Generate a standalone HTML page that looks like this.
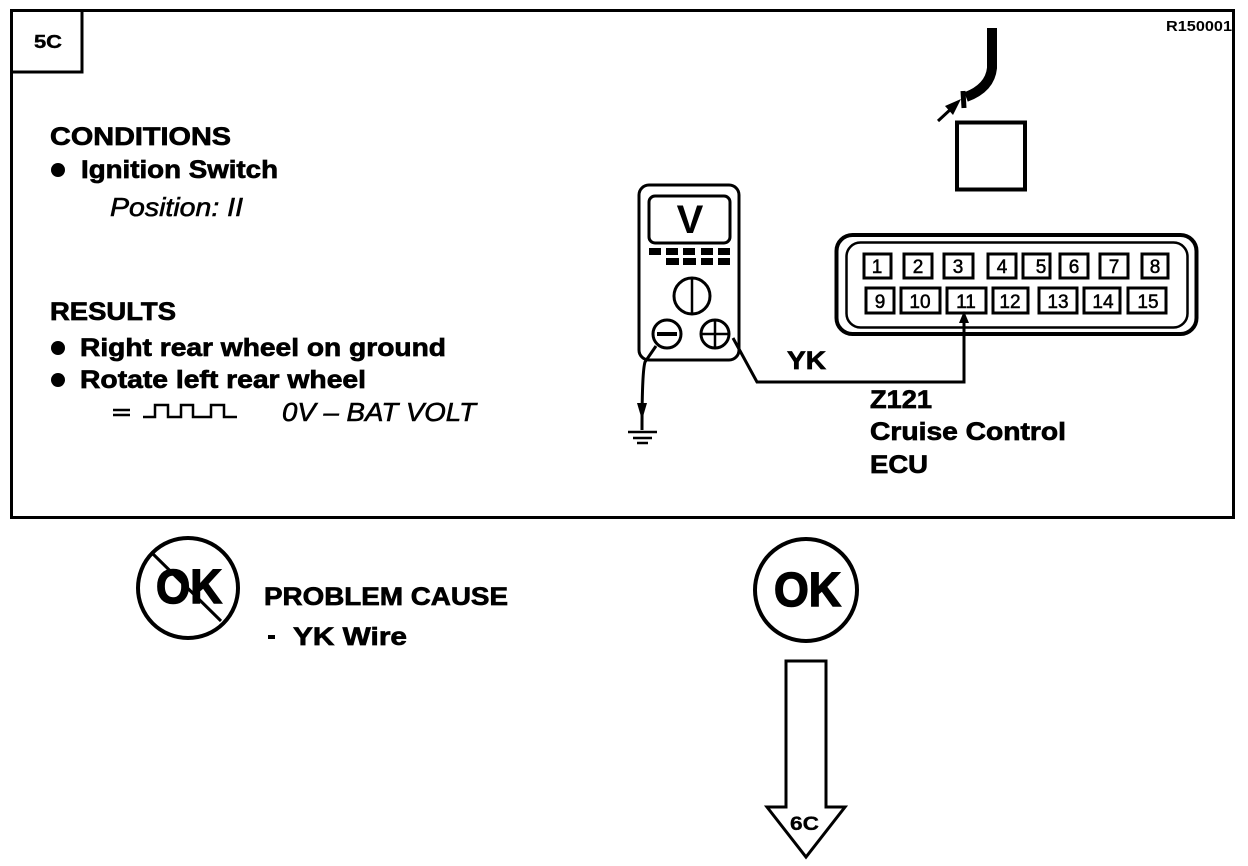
<!DOCTYPE html>
<html><head><meta charset="utf-8"><style>
html,body{margin:0;padding:0;background:#fff}
svg{display:block}
text{font-family:"Liberation Sans",sans-serif;font-weight:bold;fill:#000}
.l{font-size:25px;stroke:#000;stroke-width:.7px}
.i{font-size:26px;font-style:italic;font-weight:normal;stroke:#000;stroke-width:.6px}
.p{font-size:19px;text-anchor:middle;stroke:#000;stroke-width:.5px;font-weight:normal}
.b{fill:#000;stroke:none}
</style></head><body>
<svg width="1248" height="866" viewBox="0 0 1248 866" xmlns="http://www.w3.org/2000/svg">
<g fill="none" stroke="#000" stroke-width="3">
<rect x="11.500" y="10.500" width="1222" height="507"/>
<path d="M13 72H82V11"/>
</g>
<text x="34" y="48" style="font-size:18px;stroke:#000;stroke-width:.4px" textLength="28" lengthAdjust="spacingAndGlyphs">5C</text>
<text x="1166" y="31" style="font-size:15px" textLength="66" lengthAdjust="spacingAndGlyphs">R150001</text>

<text class="l" x="50" y="145" textLength="181" lengthAdjust="spacingAndGlyphs">CONDITIONS</text>
<circle class="b" cx="58" cy="170" r="7"/>
<text class="l" x="81" y="178" textLength="197" lengthAdjust="spacingAndGlyphs">Ignition Switch</text>
<text class="i" x="110" y="216" textLength="133" lengthAdjust="spacingAndGlyphs">Position: II</text>
<text class="l" x="50" y="320" textLength="126" lengthAdjust="spacingAndGlyphs">RESULTS</text>
<circle class="b" cx="58" cy="348" r="7"/>
<text class="l" x="80" y="356" textLength="366" lengthAdjust="spacingAndGlyphs">Right rear wheel on ground</text>
<circle class="b" cx="58" cy="380" r="7"/>
<text class="l" x="80" y="388" textLength="286" lengthAdjust="spacingAndGlyphs">Rotate left rear wheel</text>
<path d="M113 410H130M113 415H130" fill="none" stroke="#000" stroke-width="2.500"/>
<path d="M143 417H155V405H168V417H181V405H193V417H211V405H224V417H237" fill="none" stroke="#000" stroke-width="2.500"/>
<text class="i" x="282" y="421" textLength="194" lengthAdjust="spacingAndGlyphs">0V – BAT VOLT</text>

<!-- meter -->
<g fill="none" stroke="#000">
<rect x="639" y="185" width="100" height="175" rx="10" stroke-width="3"/>
<rect x="649" y="196" width="81" height="47" rx="6" stroke-width="3"/>
<circle cx="692" cy="296" r="18" stroke-width="3"/>
<path d="M692 278V314" stroke-width="2.500"/>
<circle cx="667" cy="334" r="14" stroke-width="3"/>
<path d="M657 334H677" stroke-width="4"/>
<circle cx="715" cy="334" r="14" stroke-width="3"/>
<path d="M701 334H729M715 320V348" stroke-width="2.500"/>
<path d="M656 346L645 362Q642 372 642 430" stroke-width="3"/>
<path d="M628 432H657M633 438H652" stroke-width="2.500"/>
<path d="M637 443H648" stroke-width="2.500"/>
</g>
<text x="690" y="233" style="font-size:40px" text-anchor="middle">V</text>
<g class="b">
<rect x="649" y="248" width="12" height="7"/><rect x="666" y="248" width="12" height="7"/><rect x="683" y="248" width="12" height="7"/><rect x="701" y="248" width="12" height="7"/><rect x="718" y="248" width="12" height="7"/>
<rect x="666" y="258" width="13" height="7"/><rect x="683" y="258" width="13" height="7"/><rect x="701" y="258" width="12" height="7"/><rect x="718" y="258" width="12" height="7"/>
<path d="M637 403L642 420L647 403Z"/>
</g>

<!-- probe and square -->
<path d="M992 28V68Q990 88 966 97" fill="none" stroke="#000" stroke-width="10"/>
<path d="M963 91L964 108" fill="none" stroke="#000" stroke-width="5"/>
<path d="M938 121L952 108" fill="none" stroke="#000" stroke-width="3"/>
<path d="M961 99L945 106L953 115Z" fill="#000"/>
<rect x="957" y="122.500" width="68" height="67" fill="#fff" stroke="#000" stroke-width="4"/>

<!-- connector -->
<rect x="836.500" y="235" width="360" height="99" rx="16" fill="#fff" stroke="#000" stroke-width="4"/>
<rect x="846.500" y="242.500" width="341" height="85" rx="14" fill="none" stroke="#000" stroke-width="2.500"/>
<g fill="#fff" stroke="#000" stroke-width="3">
<rect x="864" y="254" width="27" height="24"/><rect x="904" y="254" width="28" height="24"/><rect x="944" y="254" width="29" height="24"/><rect x="988" y="254" width="28" height="24"/><rect x="1023" y="254" width="27" height="24"/><rect x="1060" y="254" width="28" height="24"/><rect x="1100" y="254" width="28" height="24"/><rect x="1142" y="254" width="26" height="24"/>
<rect x="866" y="288" width="28" height="25"/><rect x="901" y="288" width="39" height="25"/><rect x="947" y="288" width="39" height="25"/><rect x="993" y="288" width="35" height="25"/><rect x="1039" y="288" width="38" height="25"/><rect x="1084" y="288" width="36" height="25"/><rect x="1128" y="288" width="38" height="25"/>
</g>
<g>
<text class="p" x="877" y="273">1</text><text class="p" x="918" y="273">2</text><text class="p" x="958" y="273">3</text><text class="p" x="1002" y="273">4</text><text class="p" x="1041" y="273">5</text><text class="p" x="1074" y="273">6</text><text class="p" x="1114" y="273">7</text><text class="p" x="1155" y="273">8</text>
<text class="p" x="880" y="308">9</text><text class="p" x="920" y="308">10</text><text class="p" x="966" y="308">11</text><text class="p" x="1010" y="308">12</text><text class="p" x="1058" y="308">13</text><text class="p" x="1103" y="308">14</text><text class="p" x="1148" y="308">15</text>
</g>
<path d="M733 338L757 382H964V320" fill="none" stroke="#000" stroke-width="3"/>
<path class="b" d="M959 323L964 311L969 323Z"/>

<text class="l" x="787" y="369" textLength="39" lengthAdjust="spacingAndGlyphs">YK</text>
<text class="l" x="870" y="408" textLength="62" lengthAdjust="spacingAndGlyphs">Z121</text>
<text class="l" x="870" y="440" textLength="196" lengthAdjust="spacingAndGlyphs">Cruise Control</text>
<text class="l" x="870" y="473" textLength="58" lengthAdjust="spacingAndGlyphs">ECU</text>

<!-- bottom -->
<circle cx="188" cy="588" r="50" fill="none" stroke="#000" stroke-width="4"/>
<text x="156" y="603" style="font-size:48px;stroke:#000;stroke-width:1.500px" textLength="66" lengthAdjust="spacingAndGlyphs">OK</text>
<path d="M152 553L221 621" stroke="#000" stroke-width="3" fill="none"/>
<text class="l" x="264" y="605" textLength="244" lengthAdjust="spacingAndGlyphs">PROBLEM CAUSE</text>
<rect class="b" x="268" y="635" width="7" height="4"/>
<text class="l" x="293" y="645" textLength="114" lengthAdjust="spacingAndGlyphs">YK  Wire</text>

<circle cx="806" cy="590" r="51" fill="none" stroke="#000" stroke-width="4"/>
<text x="774" y="606" style="font-size:48px;stroke:#000;stroke-width:1.500px" textLength="67" lengthAdjust="spacingAndGlyphs">OK</text>
<path d="M786 661H826V807H845L806 857L767 807H786Z" fill="none" stroke="#000" stroke-width="3"/>
<text x="790" y="830" style="font-size:19px;stroke:#000;stroke-width:.3px" textLength="29" lengthAdjust="spacingAndGlyphs">6C</text>
</svg>
</body></html>
